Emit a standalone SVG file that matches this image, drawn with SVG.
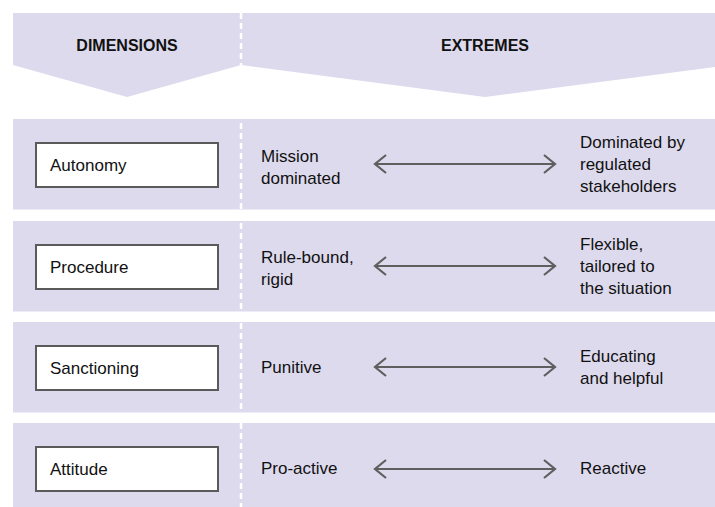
<svg xmlns="http://www.w3.org/2000/svg" width="715" height="507" viewBox="0 0 715 507">
  <defs>
    <style>
      .band { fill: #dddaed; }
      .box { fill: #ffffff; stroke: #5a5a5a; stroke-width: 2; }
      .label { font-family: "Liberation Sans", Arial, sans-serif; font-size: 17px; fill: #111111; }
      .head { font-family: "Liberation Sans", Arial, sans-serif; font-size: 16px; font-weight: bold; fill: #111111; text-anchor: middle; }
      .divider { stroke: #ffffff; stroke-width: 2.5; stroke-dasharray: 6 4; fill: none; }
      .conn { stroke: #5f5f5f; stroke-width: 2.2; fill: none; }
    </style>
    <marker id="chev" viewBox="0 0 14 20" refX="12" refY="10" markerWidth="14" markerHeight="20" markerUnits="userSpaceOnUse" orient="auto-start-reverse">
      <path d="M1,1 L12,10 L1,19" fill="none" stroke="#5f5f5f" stroke-width="2.2"/>
    </marker>
  </defs>

  <rect width="715" height="507" fill="#ffffff"/>

  <!-- column header band with chevron bottoms -->
  <g id="header">
    <path class="band" d="M13,13 H715 V67 L485,97 L241,65 L127,97 L13,65 Z"/>
    <text class="head" x="127" y="51">DIMENSIONS</text>
    <text class="head" x="485" y="51">EXTREMES</text>
  </g>

  <!-- row bands -->
  <rect class="band" x="13" y="119" width="702" height="90.5"/>
  <rect class="band" x="13" y="221" width="702" height="90.5"/>
  <rect class="band" x="13" y="322" width="702" height="90.5"/>
  <rect class="band" x="13" y="423" width="702" height="90"/>

  <!-- dashed column divider -->
  <line class="divider" x1="241" y1="13" x2="241" y2="507"/>

  <!-- dimensions -->
  <g id="autonomy">
    <rect class="box" x="36" y="143" width="182" height="44"/>
    <text class="label" x="50" y="171">Autonomy</text>
  </g>
  <g id="procedure">
    <rect class="box" x="36" y="245" width="182" height="44"/>
    <text class="label" x="50" y="273">Procedure</text>
  </g>
  <g id="sanctioning">
    <rect class="box" x="36" y="346" width="182" height="44"/>
    <text class="label" x="50" y="374">Sanctioning</text>
  </g>
  <g id="attitude">
    <rect class="box" x="36" y="447" width="182" height="44"/>
    <text class="label" x="50" y="475">Attitude</text>
  </g>

  <!-- left extremes -->
  <g id="mission-dominated">
    <text class="label" x="261" y="162">Mission</text>
    <text class="label" x="261" y="184">dominated</text>
  </g>
  <g id="rule-bound">
    <text class="label" x="261" y="263">Rule-bound,</text>
    <text class="label" x="261" y="285">rigid</text>
  </g>
  <g id="punitive">
    <text class="label" x="261" y="373">Punitive</text>
  </g>
  <g id="pro-active">
    <text class="label" x="261" y="474">Pro-active</text>
  </g>

  <!-- right extremes -->
  <g id="stakeholder-dominated">
    <text class="label" x="580" y="148">Dominated by</text>
    <text class="label" x="580" y="170">regulated</text>
    <text class="label" x="580" y="192">stakeholders</text>
  </g>
  <g id="flexible">
    <text class="label" x="580" y="250">Flexible,</text>
    <text class="label" x="580" y="272">tailored to</text>
    <text class="label" x="580" y="294">the situation</text>
  </g>
  <g id="educating">
    <text class="label" x="580" y="362">Educating</text>
    <text class="label" x="580" y="384">and helpful</text>
  </g>
  <g id="reactive">
    <text class="label" x="580" y="474">Reactive</text>
  </g>

  <!-- double-headed connectors between extremes -->
  <g id="connectors">
    <line class="conn" x1="375" y1="164" x2="555" y2="164" marker-start="url(#chev)" marker-end="url(#chev)"/>
    <line class="conn" x1="375" y1="266" x2="555" y2="266" marker-start="url(#chev)" marker-end="url(#chev)"/>
    <line class="conn" x1="375" y1="367" x2="555" y2="367" marker-start="url(#chev)" marker-end="url(#chev)"/>
    <line class="conn" x1="375" y1="469" x2="555" y2="469" marker-start="url(#chev)" marker-end="url(#chev)"/>
  </g>
</svg>
